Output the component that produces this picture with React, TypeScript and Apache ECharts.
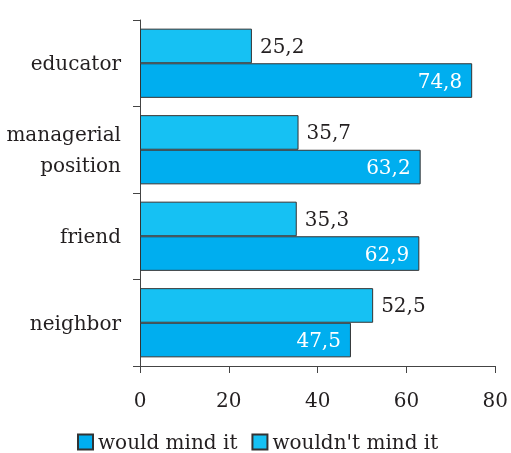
import React, { useEffect, useRef } from "react";
import * as echarts from "echarts";

const categories = ["educator", "managerial\nposition", "friend", "neighbor"];
const wouldMind = [74.8, 63.2, 62.9, 47.5];
const wouldntMind = [25.2, 35.7, 35.3, 52.5];
const xTicks = [0, 20, 40, 60, 80];
const seriesNames = ["would mind it", "wouldn't mind it"];

const FONT = "'DejaVu Serif', serif";
const TEXT = "#231f20";
const fmt = (v: number) => v.toFixed(1).replace(".", ",");

export default function App() {
  const ref = useRef<HTMLDivElement>(null);
  useEffect(() => {
    if (!ref.current) return;
    const chart = echarts.init(ref.current, undefined, { renderer: "svg" });
    chart.setOption({
      animation: false,
      textStyle: { fontFamily: FONT },
      grid: { left: 140, right: 14, top: 20, bottom: 87, containLabel: false },
      legend: {
        data: seriesNames,
        left: 77,
        top: 432,
        padding: 0,
        itemWidth: 15,
        itemHeight: 15,
        itemGap: 14,
        icon: "rect",
        textStyle: { fontFamily: FONT, fontSize: 20, lineHeight: 18, color: TEXT },
      },
      xAxis: {
        type: "value",
        min: xTicks[0],
        max: xTicks[xTicks.length - 1],
        interval: 20,
        axisLine: { show: true, lineStyle: { color: "#444", width: 1 } },
        axisTick: { show: true, length: 7, lineStyle: { color: "#444" } },
        splitLine: { show: false },
        axisLabel: { fontFamily: FONT, fontSize: 20, color: TEXT, margin: 24 },
      },
      yAxis: {
        type: "category",
        inverse: true,
        data: categories,
        axisLine: { show: true, lineStyle: { color: "#444", width: 1 } },
        axisTick: { show: true, length: 7, lineStyle: { color: "#444" } },
        axisLabel: {
          fontFamily: FONT,
          fontSize: 20,
          color: TEXT,
          margin: 19,
          lineHeight: 31,
          align: "right",
        },
      },
      series: [
        {
          name: seriesNames[1],
          type: "bar",
          data: wouldntMind,
          barCategoryGap: "20%",
          barGap: "0%",
          itemStyle: { color: "#16c1f3", borderColor: "#333", borderWidth: 1 },
          label: {
            show: true,
            position: "right",
            distance: 8,
            fontFamily: FONT,
            fontSize: 20,
            color: TEXT,
            formatter: (p: any) => fmt(p.value),
          },
        },
        {
          name: seriesNames[0],
          type: "bar",
          data: wouldMind,
          barCategoryGap: "20%",
          barGap: "0%",
          itemStyle: { color: "#00aeef", borderColor: "#333", borderWidth: 1 },
          label: {
            show: true,
            position: "insideRight",
            distance: 10,
            fontFamily: FONT,
            fontSize: 20,
            color: "#ffffff",
            formatter: (p: any) => fmt(p.value),
          },
        },
      ],
    });
    return () => chart.dispose();
  }, []);
  return (
    <div
      ref={ref}
      style={{ position: "fixed", left: 0, top: 0, width: 511, height: 453 }}
    />
  );
}
